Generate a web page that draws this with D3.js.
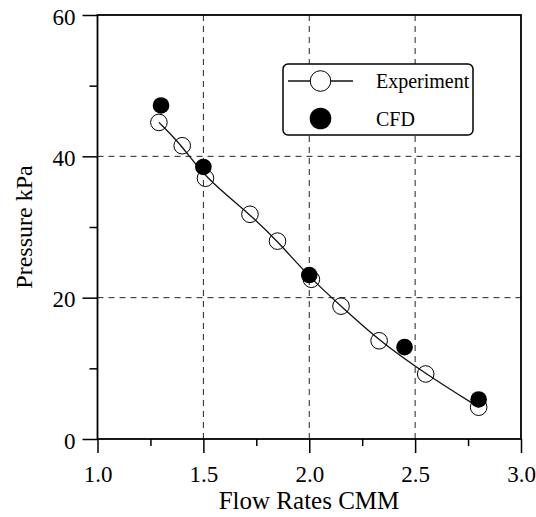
<!DOCTYPE html>
<html>
<head>
<meta charset="utf-8">
<script src="https://cdn.jsdelivr.net/npm/d3@7"></script>
<style>
  body { margin: 0; background: #fff; }
  svg { display: block; font-family: "Liberation Serif", "Times New Roman", serif; }
</style>
</head>
<body>
<script>
// experiment data (open circles + fitted line)
const expFlow = [1.29, 1.40, 1.51, 1.72, 1.85, 2.01, 2.15, 2.33, 2.55, 2.80];
const expPressure = [44.8, 41.5, 36.9, 31.8, 28.0, 22.6, 18.8, 13.9, 9.2, 4.5];
// CFD data (filled circles)
const cfdFlow = [1.30, 1.50, 2.00, 2.45, 2.80];
const cfdPressure = [47.2, 38.5, 23.2, 13.0, 5.6];

const xMajor = [1.0, 1.5, 2.0, 2.5, 3.0];
const xMinor = [1.25, 1.75, 2.25, 2.75];
const yMajor = [0, 20, 40, 60];
const yMinor = [10, 30, 50];
const xGrid = [1.5, 2.0, 2.5];
const yGrid = [20, 40];

const width = 536, height = 517;

const svg = d3.select("body").append("svg")
  .attr("width", width)
  .attr("height", height);

const x = d3.scaleLinear().domain([1, 3]).range([97.5, 521]);
const y = d3.scaleLinear().domain([0, 60]).range([439, 15]);

// grid lines
svg.append("g").selectAll("line.gx")
  .data(xGrid).enter().append("line")
  .attr("x1", d => x(d)).attr("x2", d => x(d))
  .attr("y1", y(60)).attr("y2", y(0))
  .attr("stroke", "#222").attr("stroke-width", 1)
  .attr("stroke-dasharray", "6,5");
svg.append("g").selectAll("line.gy")
  .data(yGrid).enter().append("line")
  .attr("x1", x(1)).attr("x2", x(3))
  .attr("y1", d => y(d)).attr("y2", d => y(d))
  .attr("stroke", "#222").attr("stroke-width", 1)
  .attr("stroke-dasharray", "6,5");

// axes
const xAxis = svg.append("g")
  .attr("transform", "translate(0," + y(0) + ")")
  .call(d3.axisBottom(x).tickValues(xMajor).tickSize(14).tickSizeOuter(0)
    .tickFormat(d3.format(".1f")));
xAxis.selectAll("text").attr("y", 43).attr("dy", "0").style("font-size", "23px");
svg.append("g")
  .attr("transform", "translate(0," + y(0) + ")")
  .call(d3.axisBottom(x).tickValues(xMinor).tickSize(7).tickSizeOuter(0).tickFormat(""));

const yAxis = svg.append("g")
  .attr("transform", "translate(" + x(1) + ",0)")
  .call(d3.axisLeft(y).tickValues(yMajor).tickSize(15).tickPadding(7).tickSizeOuter(0));
yAxis.selectAll("text").attr("dy", "0.4em").style("font-size", "23px");
svg.append("g")
  .attr("transform", "translate(" + x(1) + ",0)")
  .call(d3.axisLeft(y).tickValues(yMinor).tickSize(8).tickSizeOuter(0).tickFormat(""));

svg.selectAll(".domain").remove();
svg.selectAll(".tick line").attr("stroke", "#000").attr("stroke-width", 1.5);
svg.selectAll(".tick text").attr("fill", "#000").style("font-family", "'Liberation Serif', 'Times New Roman', serif");

// frame
svg.append("rect")
  .attr("x", x(1)).attr("y", y(60))
  .attr("width", x(3) - x(1)).attr("height", y(0) - y(60))
  .attr("fill", "none").attr("stroke", "#000").attr("stroke-width", 1.8);

// axis titles
svg.append("text")
  .attr("x", 309).attr("y", 509)
  .attr("text-anchor", "middle")
  .style("font-size", "25px")
  .text("Flow Rates CMM");
svg.append("text")
  .attr("transform", "translate(32,227) rotate(-90)")
  .attr("text-anchor", "middle")
  .style("font-size", "24px")
  .text("Pressure kPa");

// experiment curve (smoothed fit)
const expData = expFlow.map((f, i) => [f, expPressure[i]]);
const cfdData = cfdFlow.map((f, i) => [f, cfdPressure[i]]);

const line = d3.line()
  .x(d => x(d[0])).y(d => y(d[1]))
  .curve(d3.curveBasis);
svg.append("path")
  .datum(expData)
  .attr("d", line)
  .attr("fill", "none").attr("stroke", "#111").attr("stroke-width", 1.3);

svg.append("g").selectAll("circle")
  .data(expData).enter().append("circle")
  .attr("cx", d => x(d[0])).attr("cy", d => y(d[1]))
  .attr("r", 8.3)
  .attr("fill", "none").attr("stroke", "#000").attr("stroke-width", 1);

svg.append("g").selectAll("circle")
  .data(cfdData).enter().append("circle")
  .attr("cx", d => x(d[0])).attr("cy", d => y(d[1]))
  .attr("r", 8.3)
  .attr("fill", "#000");

// legend
const leg = svg.append("g");
leg.append("rect")
  .attr("x", 283).attr("y", 64).attr("width", 190).attr("height", 71)
  .attr("rx", 5).attr("ry", 5)
  .attr("fill", "#fff").attr("stroke", "#000").attr("stroke-width", 1.5);
leg.append("line")
  .attr("x1", 288).attr("x2", 353).attr("y1", 81).attr("y2", 81)
  .attr("stroke", "#111").attr("stroke-width", 1.3);
leg.append("circle")
  .attr("cx", 320.5).attr("cy", 81).attr("r", 10.3)
  .attr("fill", "#fff").attr("stroke", "#000").attr("stroke-width", 1);
leg.append("circle")
  .attr("cx", 320.5).attr("cy", 118.5).attr("r", 10.8)
  .attr("fill", "#000");
leg.append("text")
  .attr("x", 376).attr("y", 87.5)
  .style("font-size", "20px")
  .text("Experiment");
leg.append("text")
  .attr("x", 376).attr("y", 125.5)
  .style("font-size", "20px")
  .text("CFD");
</script>
</body>
</html>
